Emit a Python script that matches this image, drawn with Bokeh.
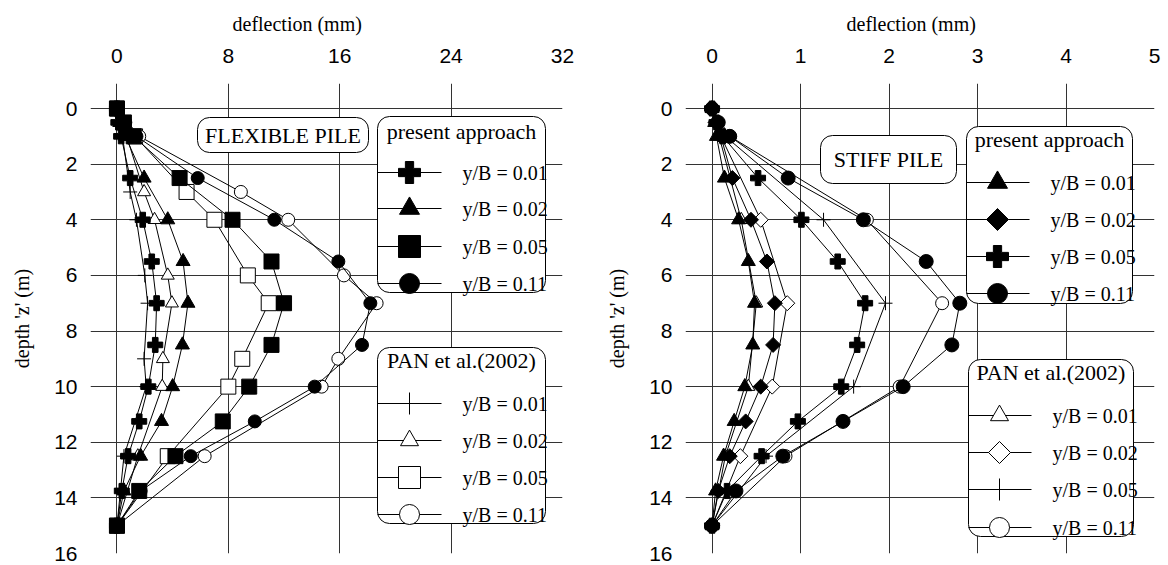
import numpy as np
from bokeh.plotting import figure
from bokeh.layouts import row
from bokeh.models import FixedTicker
from bokeh.core.properties import value
from bokeh.embed import file_html
from bokeh.resources import INLINE

# ---------------- data ----------------
depth_present = [0, 0.5, 1, 2.5, 4, 5.5, 7, 8.5, 10, 11.25, 12.5, 13.75, 15]
depth_pan_flex = [0, 1, 3, 4, 6, 7, 9, 10, 12.5, 15]
depth_pan_stiff = [0, 1, 4, 7, 10, 12.5, 15]

# flexible pile, present approach (mm)
flex_present_001 = [0, 0.1, 0.3, 0.95, 1.85, 2.5, 2.85, 2.75, 2.25, 1.6, 0.8, 0.35, 0]
flex_present_002 = [0, 0.2, 0.6, 1.95, 3.65, 4.75, 5.1, 4.7, 4.0, 3.2, 1.7, 0.5, 0]
flex_present_005 = [0, 0.5, 1.2, 4.5, 8.3, 11.1, 12.0, 11.1, 9.5, 7.6, 4.2, 1.6, 0]
flex_present_011 = [0, 0.6, 1.4, 5.8, 11.3, 15.9, 18.2, 17.6, 14.2, 9.9, 5.3, 1.7, 0]
# flexible pile, PAN et al.(2002)
flex_pan_001 = [0, 0.4, 0.95, 1.4, 2.0, 2.2, 1.95, 2.1, 0.5, 0]
flex_pan_002 = [0, 0.7, 1.95, 2.7, 3.65, 3.95, 3.3, 3.25, 1.5, 0]
flex_pan_005 = [0, 1.3, 5.0, 7.0, 9.4, 10.9, 9.0, 8.0, 3.65, 0]
flex_pan_011 = [0, 1.6, 8.9, 12.3, 16.3, 18.65, 15.9, 14.7, 6.3, 0]

# stiff pile, present approach (mm)
stiff_present_001 = [0, 0.03, 0.05, 0.14, 0.3, 0.41, 0.48, 0.46, 0.37, 0.25, 0.13, 0.04, 0]
stiff_present_002 = [0, 0.04, 0.1, 0.23, 0.44, 0.62, 0.71, 0.69, 0.55, 0.38, 0.2, 0.07, 0]
stiff_present_005 = [0, 0.05, 0.12, 0.52, 1.01, 1.42, 1.73, 1.64, 1.46, 0.97, 0.56, 0.17, 0]
stiff_present_011 = [0, 0.07, 0.2, 0.86, 1.71, 2.42, 2.80, 2.71, 2.16, 1.48, 0.80, 0.27, 0]
# stiff pile, PAN et al.(2002)
stiff_pan_001 = [0, 0.08, 0.33, 0.5, 0.41, 0.15, 0]
stiff_pan_002 = [0, 0.1, 0.55, 0.85, 0.68, 0.32, 0]
stiff_pan_005 = [0, 0.15, 1.26, 1.96, 1.6, 0.61, 0]
stiff_pan_011 = [0, 0.2, 1.75, 2.6, 2.12, 0.83, 0]

ratio_labels = ["y/B = 0.01", "y/B = 0.02", "y/B = 0.05", "y/B = 0.11"]
x_ticks_flex = [0, 8, 16, 24, 32]
x_ticks_stiff = [0, 1, 2, 3, 4, 5]
y_ticks = [0, 2, 4, 6, 8, 10, 12, 14, 16]

SERIF = "Liberation Serif"
SANS = "Liberation Sans"
GRID = "#333333"
FRAME_TOP = 83
FRAME_H = 470


def make_fig(xr, xticks, min_left, min_right, title_offset):
    p = figure(width=584, height=565, x_range=xr, y_range=(16, -0.9),
               output_backend="svg", toolbar_location=None,
               x_axis_location="above",
               min_border_left=min_left, min_border_right=min_right,
               min_border_top=FRAME_TOP, min_border_bottom=12)
    p.outline_line_color = None
    p.background_fill_color = "white"
    p.border_fill_color = "white"
    p.xaxis.ticker = FixedTicker(ticks=xticks)
    p.yaxis.ticker = FixedTicker(ticks=y_ticks)
    for ax in (p.xaxis[0], p.yaxis[0]):
        ax.axis_line_color = None
        ax.major_tick_line_color = None
        ax.minor_tick_line_color = None
        ax.major_tick_out = 0
        ax.major_tick_in = 0
        ax.major_label_text_font = SANS
        ax.major_label_text_font_size = "21px"
        ax.major_label_text_color = "black"
    p.xaxis.major_label_standoff = 21
    p.yaxis.major_label_standoff = 13
    p.yaxis.axis_label = "depth 'z' (m)"
    p.yaxis.axis_label_text_font = SERIF
    p.yaxis.axis_label_text_font_size = "20px"
    p.yaxis.axis_label_text_font_style = "normal"
    p.yaxis.axis_label_text_color = "black"
    p.yaxis.axis_label_standoff = 18
    p.xgrid.ticker = FixedTicker(ticks=xticks)
    p.ygrid.ticker = FixedTicker(ticks=y_ticks)
    for g in (p.xgrid[0], p.ygrid[0]):
        g.grid_line_color = GRID
        g.grid_line_width = 1
    p.title.text = "deflection (mm)"
    p.title.align = "left"
    p.title.vertical_align = "top"
    p.title.offset = title_offset
    p.title.text_font = SERIF
    p.title.text_font_size = "20px"
    p.title.text_font_style = "normal"
    p.title.text_color = "black"
    p.title.standoff = 18
    return p


def draw_series(p, xs, ys, marker, filled, size):
    p.line(xs, ys, line_color="black", line_width=1)
    angle = 0.0
    if marker == "diamond":
        marker = "square"
        angle = np.pi / 4
        size = size / 1.414
    p.scatter(xs, ys, marker=marker, size=size, angle=angle,
              fill_color="black" if filled else "white",
              line_color="black", line_width=1)


def draw_box(p, cx, cy, l, r, t, b, radius=12):
    p.quad(left=[cx(l)], right=[cx(r)], top=[cy(t)], bottom=[cy(b)],
           fill_color="white", line_color="black", line_width=1,
           border_radius=radius)


def draw_legend(p, cx, cy, l, r, t, b, title, title_y, rows_y, line_l, line_r,
                marker_x, label_x, markers):
    draw_box(p, cx, cy, l, r, t, b)
    p.text(x=[cx((l + r) / 2)], y=[cy(title_y)], text=[title],
           text_font=value(SERIF), text_font_size="22px", text_align="center",
           text_baseline="middle", text_color="black")
    for (mk, filled, size), ry, lab in zip(markers, rows_y, ratio_labels):
        p.segment(x0=[cx(line_l)], x1=[cx(line_r)], y0=[cy(ry)], y1=[cy(ry)],
                  line_color="black", line_width=1)
        angle = 0.0
        if mk == "diamond":
            mk = "square"
            angle = np.pi / 4
            size = size / 1.414
        p.scatter(x=[cx(marker_x)], y=[cy(ry)], marker=mk, size=size, angle=angle,
                  fill_color="black" if filled else "white",
                  line_color="black", line_width=1)
        p.text(x=[cx(label_x)], y=[cy(ry)], text=[lab],
               text_font=value(SERIF), text_font_size="20px", text_align="left",
               text_baseline="middle", text_color="black")


def tag(p, cx, cy, l, r, t, b, txt):
    draw_box(p, cx, cy, l, r, t, b)
    p.text(x=[cx((l + r) / 2)], y=[cy((t + b) / 2)], text=[txt],
           text_font=value(SERIF), text_font_size="22px", text_align="center",
           text_baseline="middle", text_color="black")


# ---------------- flexible pile ----------------
p1 = make_fig((-1.9, 32), x_ticks_flex, 90, 22, 142)
cx1 = lambda sx: -1.9 + (sx - 90) * 33.9 / 472
cy1 = lambda sy: -0.9 + (sy - FRAME_TOP) * 16.9 / FRAME_H

pan_flex = [flex_pan_001, flex_pan_002, flex_pan_005, flex_pan_011]
pan_flex_m = [("cross", False, 14), ("triangle", False, 13), ("square", False, 15), ("circle", False, 13)]
for xs, (mk, f, s) in zip(pan_flex, pan_flex_m):
    draw_series(p1, xs, depth_pan_flex, mk, f, s)
pres_flex = [flex_present_001, flex_present_002, flex_present_005, flex_present_011]
pres_flex_m = [("plus", True, 15), ("triangle", True, 14), ("square", True, 15), ("circle", True, 13)]
for xs, (mk, f, s) in zip(pres_flex, pres_flex_m):
    draw_series(p1, xs, depth_present, mk, f, s)

tag(p1, cx1, cy1, 197, 368, 117, 152, "FLEXIBLE PILE")
draw_legend(p1, cx1, cy1, 377, 545, 116, 292, "present approach", 131,
            [172, 208, 246, 283], 377, 441, 409, 462,
            [("plus", True, 22), ("triangle", True, 20), ("square", True, 22), ("circle", True, 20)])
draw_legend(p1, cx1, cy1, 377, 545, 347, 523, "PAN et al.(2002)", 360,
            [403, 440, 477, 514], 377, 441, 409, 462,
            [("cross", False, 22), ("triangle", False, 18), ("square", False, 22), ("circle", False, 20)])

# ---------------- stiff pile ----------------
p2 = make_fig((-0.3, 5.0), x_ticks_stiff, 101, 14, 161)
cx2 = lambda sx: -0.3 + (sx - 685) * 5.3 / 469
cy2 = cy1

pan_stiff = [stiff_pan_001, stiff_pan_002, stiff_pan_005, stiff_pan_011]
pan_stiff_m = [("triangle", False, 13), ("diamond", False, 15), ("cross", False, 14), ("circle", False, 13)]
for xs, (mk, f, s) in zip(pan_stiff, pan_stiff_m):
    draw_series(p2, xs, depth_pan_stiff, mk, f, s)
pres_stiff = [stiff_present_001, stiff_present_002, stiff_present_005, stiff_present_011]
pres_stiff_m = [("triangle", True, 14), ("diamond", True, 15), ("plus", True, 15), ("circle", True, 14)]
for xs, (mk, f, s) in zip(pres_stiff, pres_stiff_m):
    draw_series(p2, xs, depth_present, mk, f, s)

tag(p2, cx2, cy2, 820, 956, 135, 183, "STIFF PILE")
draw_legend(p2, cx2, cy2, 966, 1132, 126, 303, "present approach", 139,
            [182, 219, 256, 293], 966, 1029, 997, 1050,
            [("triangle", True, 20), ("diamond", True, 22), ("plus", True, 22), ("circle", True, 20)])
draw_legend(p2, cx2, cy2, 968, 1133, 359, 536, "PAN et al.(2002)", 372,
            [415, 452, 489, 527], 968, 1031, 999, 1052,
            [("triangle", False, 18), ("diamond", False, 22), ("cross", False, 22), ("circle", False, 20)])

layout = row(p1, p2)
open("out.html", "w").write(file_html(layout, INLINE))
